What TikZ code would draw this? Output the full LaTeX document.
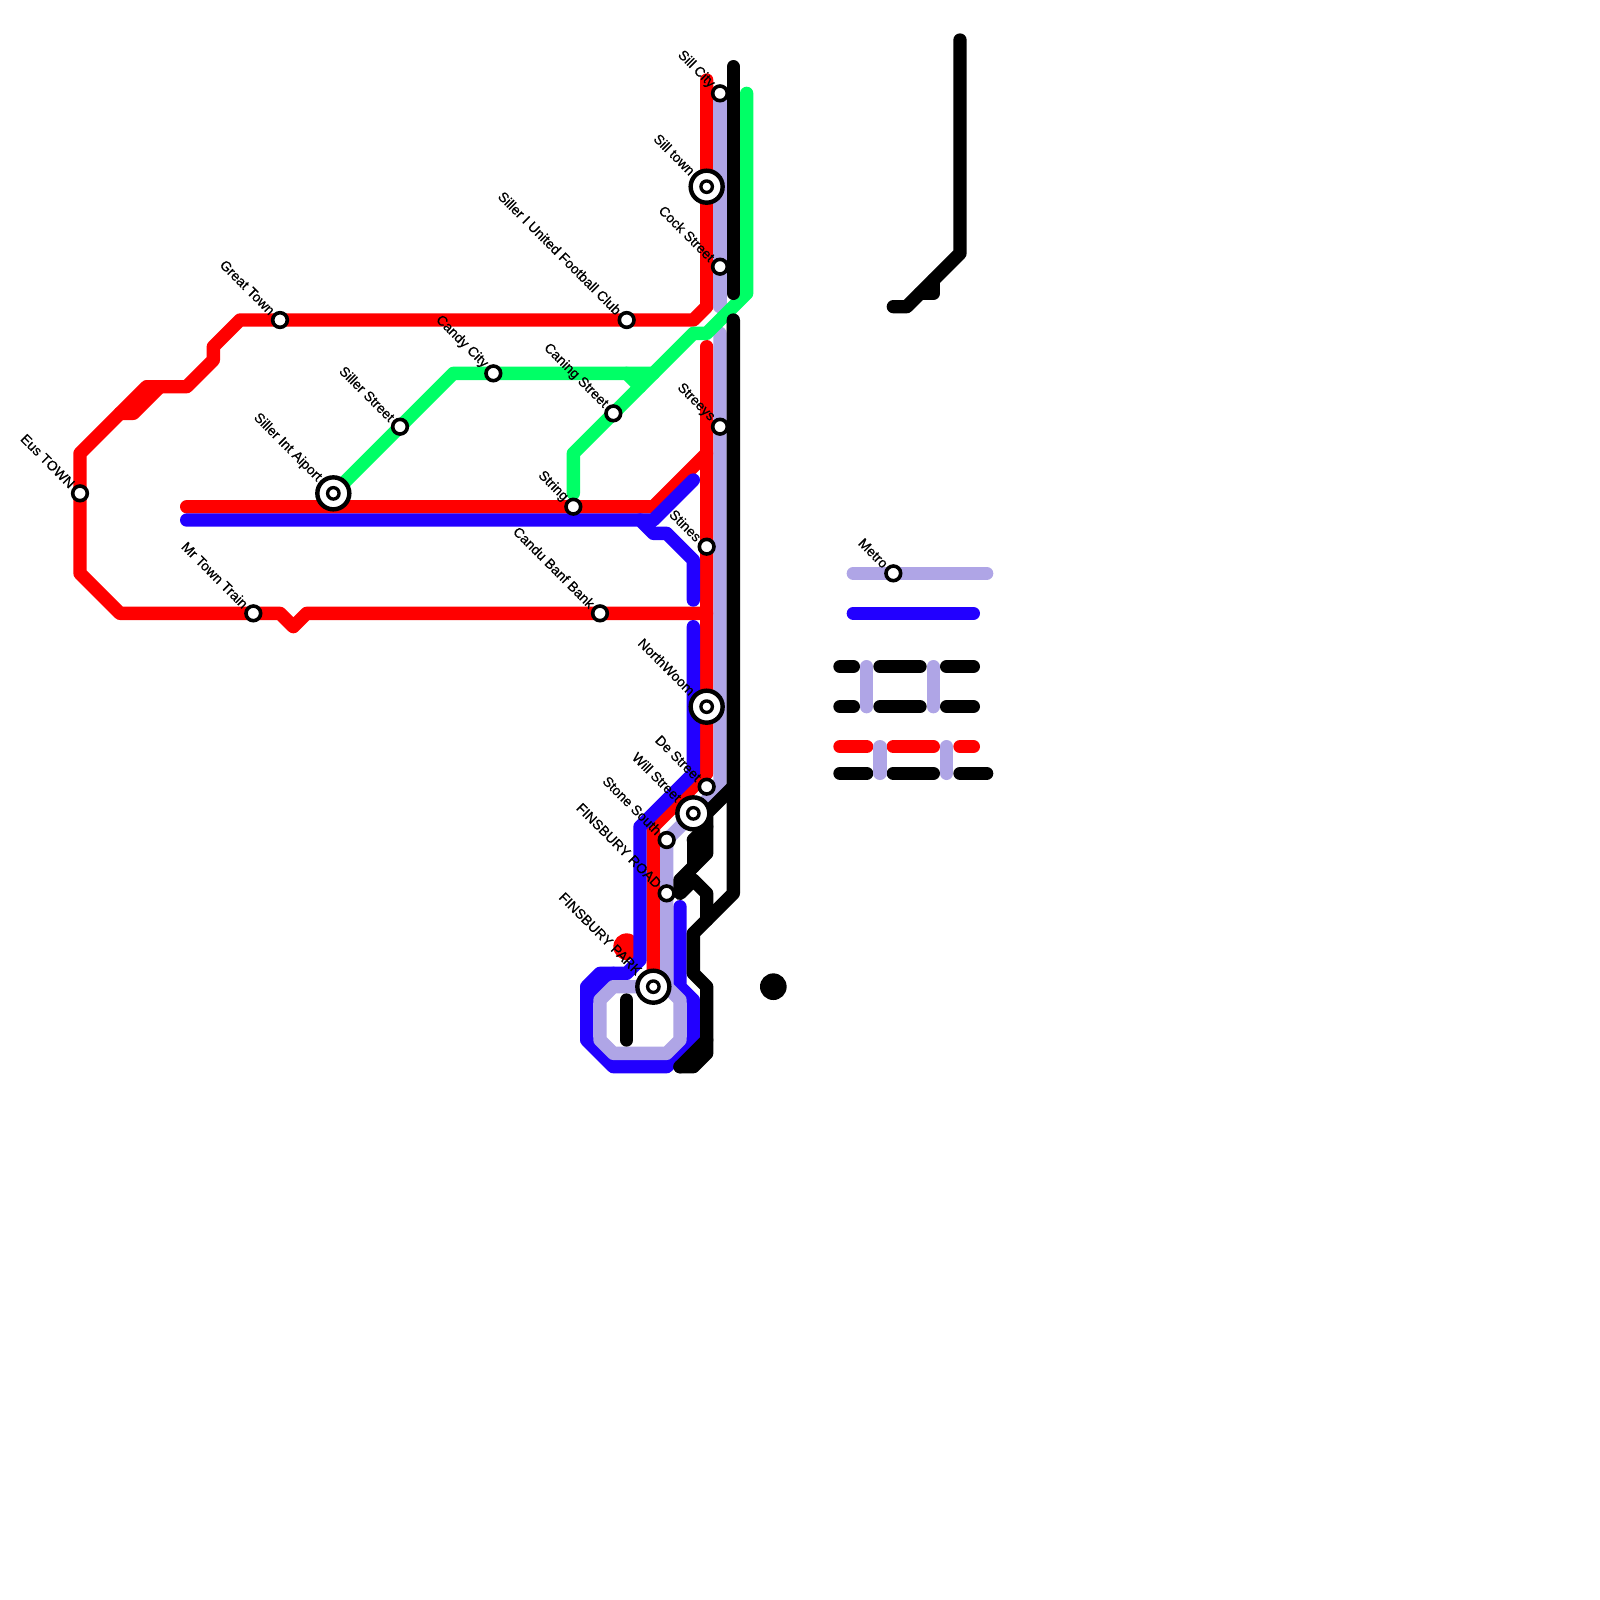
\documentclass[tikz,border=0pt]{standalone}
\usepackage{fontspec}
\setmainfont{Liberation Sans}[BoldFont=Liberation Sans,BoldFeatures={FakeBold=0.6}]
\definecolor{LineRed}{RGB}{255,0,0}
\definecolor{LineBlue}{RGB}{34,0,255}
\definecolor{LineLilac}{RGB}{175,165,230}
\definecolor{LineGreen}{RGB}{0,255,102}
\tikzset{
    metro/.style={line width=1mm,line cap=round,line join=round},
    stn/.style={circle,draw=black,fill=white,line width=.27mm,minimum size=1.1mm,inner sep=0pt},
    hub/.style={circle,draw=black,fill=white,line width=.33mm,minimum size=2.4mm,inner sep=0pt,
        path picture={\draw[line width=.25mm] (path picture bounding box.center) circle (.43mm);}},
    lbl/.style={rotate=-45,anchor=east,inner sep=.05mm,text=black,font=\fontsize{2.95}{3.5}\selectfont\bfseries}
}
\begin{document}
\begin{tikzpicture}[x=1mm,y=-1mm]
    \useasboundingbox (0,0) rectangle (120,120);
    \fill[white] (0,0) rectangle (120,120);
    \fill[LineRed] (47,71) circle (1mm);
    \draw[metro,LineRed] (53,6) -- (53,23) -- (52,24) -- (18,24) -- (16,26) -- (16,27) -- (14,29) -- (11,29) -- (6,34) -- (6,43) -- (9,46) -- (21,46) -- (22,47) -- (23,46) -- (53,46);
    \draw[metro,LineRed] (9,31) -- (10,31) -- (12,29);
    \draw[metro,LineRed] (14,38) -- (49,38) -- (53,34);
    \draw[metro,LineRed] (53,26) -- (53,58) -- (49,62) -- (49,74);
    \draw[metro,LineBlue] (14,39) -- (48,39) -- (49,40) -- (50,40) -- (52,42) -- (52,45);
    \draw[metro,LineBlue] (52,36) -- (49,39) -- (48,39);
    \draw[metro,LineBlue] (52,47) -- (52,58) -- (48,62) -- (48,72) -- (47,73) -- (45,73) -- (44,74) -- (44,78) -- (46,80) -- (50,80) -- (52,78) -- (52,75) -- (51,74) -- (51,68);
    \draw[metro,LineBlue] (44,75) -- (46,73);
    \draw[metro,LineLilac] (54,7) -- (54,23);
    \draw[metro,LineLilac] (54,25) -- (54,59) -- (50,63) -- (50,74);
    \draw[metro,LineLilac] (46,74) -- (50,74) -- (51,75) -- (51,78) -- (50,79) -- (46,79) -- (45,78) -- (45,75) -- cycle;
    \draw[metro,LineGreen] (56,7) -- (56,22) -- (53,25) -- (52,25) -- (43,34) -- (43,37);
    \draw[metro,LineGreen] (25,37) -- (34,28) -- (49,28);
    \draw[metro,LineGreen] (47,28) -- (48,29);
    \draw[metro,black] (55,5) -- (55,22);
    \draw[metro,black] (55,24) -- (55,67) -- (52,70) -- (52,73) -- (53,74) -- (53,79) -- (52,80) -- (51,80);
    \draw[metro,black] (53,78) -- (51,80);
    \draw[metro,black] (55,59) -- (53,61) -- (53,64) -- (51,66) -- (51,67) -- (52,66) -- (53,67) -- (53,69);
    \draw[metro,black] (52,63) -- (52,65);
    \draw[metro,black] (52,63) -- (53,62);
    \draw[metro,black] (47,75) -- (47,78);
    \draw[metro,black] (72,3) -- (72,19) -- (68,23) -- (67,23);
    \draw[metro,black] (70,21) -- (70,22) -- (69,22);
    \fill[black] (58,74) circle (1mm);
    \draw[metro,LineLilac] (64,43) -- (74,43);
    \draw[metro,LineBlue] (64,46) -- (73,46);
    \draw[metro,black] (63,50) -- (64,50);
    \draw[metro,black] (66,50) -- (69,50);
    \draw[metro,black] (71,50) -- (73,50);
    \draw[metro,black] (63,53) -- (64,53);
    \draw[metro,black] (66,53) -- (69,53);
    \draw[metro,black] (71,53) -- (73,53);
    \draw[metro,LineLilac] (65,50) -- (65,53);
    \draw[metro,LineLilac] (70,50) -- (70,53);
    \draw[metro,LineRed] (63,56) -- (65,56);
    \draw[metro,LineRed] (67,56) -- (70,56);
    \draw[metro,LineRed] (72,56) -- (73,56);
    \draw[metro,black] (63,58) -- (65,58);
    \draw[metro,black] (67,58) -- (70,58);
    \draw[metro,black] (72,58) -- (74,58);
    \draw[metro,LineLilac] (66,56) -- (66,58);
    \draw[metro,LineLilac] (71,56) -- (71,58);
    \node[stn,label={[lbl]135:Sill City}] (sillcity) at (54,7) {};
    \node[hub,label={[lbl]135:Sill town}] (silltown) at (53,14) {};
    \node[stn,label={[lbl]135:Cock Street}] (cockstreet) at (54,20) {};
    \node[stn,label={[lbl]135:Siller I United Football Club}] (sillerunited) at (47,24) {};
    \node[stn,label={[lbl]135:Great Town}] (greattown) at (21,24) {};
    \node[stn,label={[lbl]135:Candy City}] (candycity) at (37,28) {};
    \node[stn,label={[lbl]135:Caning Street}] (caningstreet) at (46,31) {};
    \node[stn,label={[lbl]135:Siller Street}] (sillerstreet) at (30,32) {};
    \node[stn,label={[lbl]135:Streeys}] (streeys) at (54,32) {};
    \node[hub,label={[lbl]135:Siller Int Aiport}] (sillerint) at (25,37) {};
    \node[stn,label={[lbl]135:Eus TOWN}] (eustown) at (6,37) {};
    \node[stn,label={[lbl]135:String}] (string) at (43,38) {};
    \node[stn,label={[lbl]135:Stines}] (stines) at (53,41) {};
    \node[stn,label={[lbl]135:Candu Banf Bank}] (candubanf) at (45,46) {};
    \node[stn,label={[lbl]135:Mr Town Train}] (mrtown) at (19,46) {};
    \node[hub,label={[lbl]135:NorthWoom}] (northwoom) at (53,53) {};
    \node[stn,label={[lbl]135:De Street}] (destreet) at (53,59) {};
    \node[hub,label={[lbl]135:Will Street}] (willstreet) at (52,61) {};
    \node[stn,label={[lbl]135:Stone South}] (stonesouth) at (50,63) {};
    \node[stn,label={[lbl]135:FINSBURY ROAD}] (finsburyroad) at (50,67) {};
    \node[hub,label={[lbl]135:FINSBURY PARK}] (finsburypark) at (49,74) {};
    \node[stn,label={[lbl]135:Metro}] (metro) at (67,43) {};
\end{tikzpicture}
\end{document}
